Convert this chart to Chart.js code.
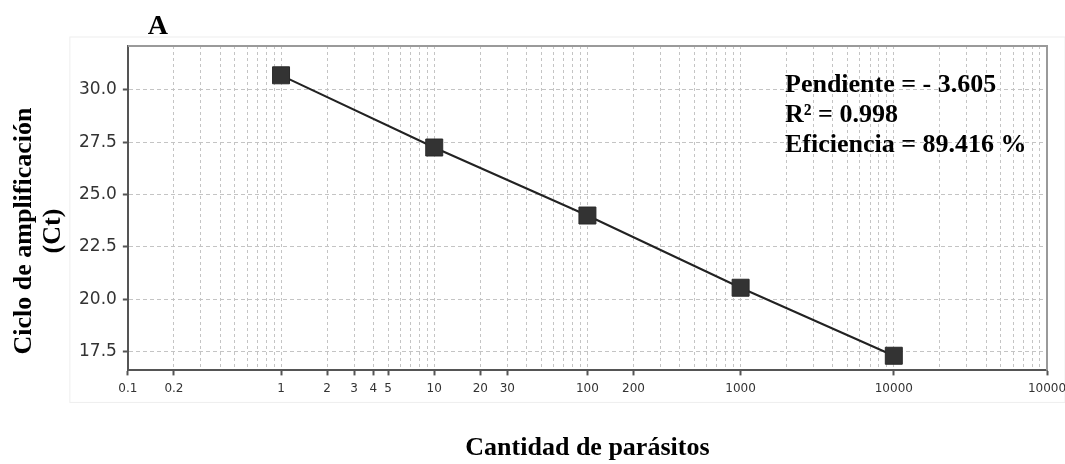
<!DOCTYPE html>
<html>
<head>
<meta charset="utf-8">
<script src="https://cdn.jsdelivr.net/npm/chart.js@4/dist/chart.umd.min.js"></script>
<style>
  html, body { margin: 0; padding: 0; background: #fff; }
  .chart { width: 1065px; height: 464px; }
</style>
</head>
<body>
<div class="chart"><canvas id="c" width="1065" height="464"></canvas></div>
<script>
// parasite amount (x) vs Ct (y)
const parasites = [1, 10, 100, 1000, 10000];
const ctValues = [30.7, 27.25, 24.0, 20.55, 17.3];

// labelled x ticks (the last one is printed "10000" in the original)
const xTickValues = [0.1, 0.2, 1, 2, 3, 4, 5, 10, 20, 30, 100, 200, 1000, 10000, 100000];
const xTickLabels = ['0.1', '0.2', '1', '2', '3', '4', '5', '10', '20', '30', '100', '200', '1000', '10000', '10000'];
const xGridValues = [
  0.1, 0.2, 0.3, 0.4, 0.5, 0.6, 0.7, 0.8, 0.9,
  1, 2, 3, 4, 5, 6, 7, 8, 9,
  10, 20, 30, 40, 50, 60, 70, 80, 90,
  100, 200, 300, 400, 500, 600, 700, 800, 900,
  1000, 2000, 3000, 4000, 5000, 6000, 7000, 8000, 9000,
  10000, 20000, 30000, 40000, 50000, 60000, 70000, 80000, 90000,
  100000
];
const yTickValues = [17.5, 20.0, 22.5, 25.0, 27.5, 30.0];

const panelLabel = 'A';
const yTitleLines = ['Ciclo de amplificación', '(Ct)'];
const statsLines = ['Pendiente = - 3.605', 'R\u00B2 = 0.998', 'Eficiencia = 89.416 %'];

const serif = '"Liberation Serif", "Times New Roman", serif';

function labelFor(v) {
  const i = xTickValues.findIndex(t => Math.abs(t - v) / t < 1e-6);
  return i < 0 ? '' : xTickLabels[i];
}

const decorPlugin = {
  id: 'decor',
  beforeDraw(chart) {
    const { ctx, chartArea: a } = chart;
    ctx.save();
    ctx.strokeStyle = '#eeeeee';
    ctx.lineWidth = 1;
    ctx.strokeRect(a.left - 58, a.top - 9, 1065 - (a.left - 58), a.bottom + 32 - (a.top - 9));
    ctx.restore();
  },
  beforeDatasetsDraw(chart) {
    const { ctx, chartArea: a } = chart;
    ctx.save();
    ctx.strokeStyle = '#9a9a9a';
    ctx.lineWidth = 2;
    ctx.beginPath();
    ctx.moveTo(a.left, a.top);
    ctx.lineTo(a.right, a.top);
    ctx.lineTo(a.right, a.bottom);
    ctx.stroke();
    ctx.restore();
  },
  afterDraw(chart) {
    const { ctx, chartArea: a } = chart;
    ctx.save();
    ctx.fillStyle = '#000';
    ctx.textBaseline = 'alphabetic';
    ctx.font = 'bold 28px ' + serif;
    ctx.fillText(panelLabel, a.left + 20, a.top - 12);

    ctx.font = 'bold 26px ' + serif;
    statsLines.forEach((s, i) => ctx.fillText(s, a.right - 262, a.top + 46 + i * 30));

    // y title, rotated, a bit below the plot centre like the original
    ctx.save();
    ctx.translate(0, 231);
    ctx.rotate(-Math.PI / 2);
    ctx.textAlign = 'center';
    ctx.textBaseline = 'middle';
    ctx.font = 'bold 26px ' + serif;
    ctx.fillText(yTitleLines[0], 0, 24);
    ctx.fillText(yTitleLines[1], 0, 53);
    ctx.restore();
    ctx.restore();
  }
};

new Chart(document.getElementById('c').getContext('2d'), {
  type: 'line',
  data: {
    datasets: [{
      data: parasites.map((x, i) => ({ x: x, y: ctValues[i] })),
      borderColor: '#222',
      borderWidth: 2,
      backgroundColor: '#333',
      pointStyle: 'rect',
      pointRadius: 12,
      pointHoverRadius: 12,
      pointBorderColor: '#2a2a2a',
      pointBorderWidth: 1,
      tension: 0
    }]
  },
  options: {
    responsive: false,
    animation: false,
    layout: { padding: { left: 73, right: 18, top: 46, bottom: 0 } },
    plugins: { legend: { display: false }, tooltip: { enabled: false } },
    scales: {
      x: {
        type: 'logarithmic',
        min: 0.1,
        max: 100000,
        afterBuildTicks: (scale) => { scale.ticks = xGridValues.map(v => ({ value: v })); },
        afterFit: (scale) => { scale.paddingRight = 0; },
        ticks: {
          autoSkip: false,
          maxRotation: 0,
          padding: 6,
          color: '#333',
          font: { family: '"DejaVu Sans", Arial, sans-serif', size: 12 },
          callback: (v) => labelFor(v)
        },
        grid: {
          color: '#c4c4c4',
          lineWidth: 1,
          tickLength: 5,
          tickColor: (c) => labelFor(c.tick ? c.tick.value : 0) ? '#555' : 'rgba(0,0,0,0)',
          tickWidth: 2
        },
        border: { color: '#555', width: 2, dash: [3, 3] },
        title: {
          display: true,
          text: 'Cantidad de parásitos',
          color: '#000',
          font: { family: serif, size: 26, weight: 'bold' },
          padding: { top: 31, bottom: 0 }
        }
      },
      y: {
        min: 16.6,
        max: 32.1,
        afterBuildTicks: (scale) => { scale.ticks = yTickValues.map(v => ({ value: v })); },
        ticks: {
          padding: 6,
          color: '#333',
          font: { family: '"DejaVu Sans", Arial, sans-serif', size: 17 },
          callback: (v) => Number(v).toFixed(1)
        },
        grid: {
          color: '#c4c4c4',
          lineWidth: 1,
          tickLength: 5,
          tickColor: '#555',
          tickWidth: 2
        },
        border: { color: '#555', width: 2, dash: [4, 3] }
      }
    }
  },
  plugins: [decorPlugin]
});
</script>
</body>
</html>
